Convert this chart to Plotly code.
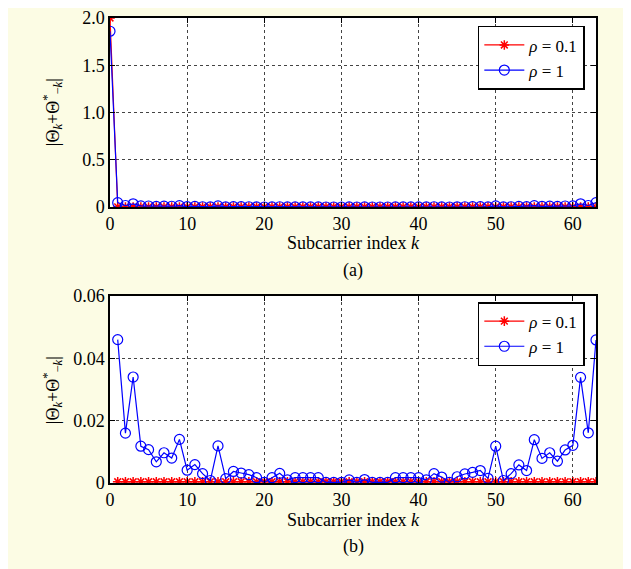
import plotly.graph_objects as go

# subcarrier index k = 0..63
k = list(range(64))

# rho = 0.1
rho01 = [2.0] + [0.0004] * 63

# rho = 1
rho1 = [1.86,
        0.046, 0.016, 0.034, 0.0118, 0.0107, 0.0068, 0.0097, 0.0080, 0.0140, 0.0041,
        0.0059, 0.0030, 0.0008, 0.0119, 0.0014, 0.0037, 0.0032, 0.0027, 0.0017, 0.0002,
        0.0017, 0.0031, 0.0010, 0.0017, 0.0017, 0.0017, 0.0017, 0.0002, 0.0002, 0.0002,
        0.0010, 0.0002, 0.0011, 0.0002, 0.0002, 0.0002, 0.0017, 0.0017, 0.0017, 0.0017,
        0.0010, 0.0030, 0.0019, 0.0002, 0.0020, 0.0029, 0.0034, 0.0040, 0.0015, 0.0118,
        0.0008, 0.0030, 0.0058, 0.0040, 0.0139, 0.0079, 0.0097, 0.0070, 0.0106, 0.0121,
        0.0339, 0.0161, 0.0459]

series_names = ["<i>ρ</i> = 0.1", "<i>ρ</i> = 1"]
x_ticks = [0, 10, 20, 30, 40, 50, 60]
y1_ticks = [0, 0.5, 1.0, 1.5, 2.0]
y1_labels = ["0", "0.5", "1.0", "1.5", "2.0"]
y2_ticks = [0, 0.02, 0.04, 0.06]
y2_labels = ["0", "0.02", "0.04", "0.06"]

FONT = "'Liberation Serif', 'Times New Roman', serif"
BG = "#FCFCE4"

red_style = dict(mode="lines+markers", line=dict(color="#FF0000", width=1.2),
                 marker=dict(symbol="asterisk-open", size=8,
                             line=dict(color="#FF0000", width=1.5)))
blue_style = dict(mode="lines+markers", line=dict(color="#0000FF", width=1.2),
                  marker=dict(symbol="circle-open", size=10,
                              line=dict(color="#0000FF", width=1.2)))

fig = go.Figure()
# top panel
fig.add_trace(go.Scatter(x=k, y=rho01, name=series_names[0], xaxis="x", yaxis="y",
                         legend="legend", **red_style))
fig.add_trace(go.Scatter(x=k, y=rho1, name=series_names[1], xaxis="x", yaxis="y",
                         legend="legend", **blue_style))
# bottom panel (k = 1..63)
fig.add_trace(go.Scatter(x=k[1:], y=rho01[1:], name=series_names[0], xaxis="x2", yaxis="y2",
                         legend="legend2", **red_style))
fig.add_trace(go.Scatter(x=k[1:], y=rho1[1:], name=series_names[1], xaxis="x2", yaxis="y2",
                         legend="legend2", **blue_style))

axis_common = dict(showline=True, linecolor="black", linewidth=1.5, mirror="ticks",
                   ticks="inside", ticklen=5, tickcolor="black", tickwidth=1,
                   showgrid=True, gridcolor="#444", gridwidth=1, griddash="dot",
                   zeroline=False, automargin=False,
                   tickfont=dict(family=FONT, size=18, color="black"))

top_dom = [0.5935, 1.0]
bot_dom = [0.0, 0.4022]

legend_common = dict(x=0.977, xanchor="right", yanchor="top",
                     bgcolor="white", bordercolor="black", borderwidth=1.5,
                     font=dict(family=FONT, size=17), tracegroupgap=0, itemwidth=40)

fig.update_layout(
    width=623, height=561,
    margin=dict(l=102, r=35, t=10, b=86),
    paper_bgcolor=BG, plot_bgcolor="white",
    font=dict(family=FONT, size=18, color="black"),
    xaxis=dict(domain=[0, 1], range=[0, 63], tickvals=x_ticks, anchor="y", **axis_common),
    yaxis=dict(domain=top_dom, range=[0, 2.0], tickvals=y1_ticks, ticktext=y1_labels,
               anchor="x", **axis_common),
    xaxis2=dict(domain=[0, 1], range=[0, 63], tickvals=x_ticks, anchor="y2", **axis_common),
    yaxis2=dict(domain=bot_dom, range=[0, 0.06], tickvals=y2_ticks, ticktext=y2_labels,
                anchor="x2", **axis_common),
    legend=dict(y=0.983, **legend_common),
    legend2=dict(y=0.389, **legend_common),
    showlegend=True,
)

ytitle = "|Θ<sub><i>k</i></sub>+Θ<sup>*</sup><sub>−<i>k</i></sub>|"
ann = [
    dict(text="Subcarrier index <i>k</i>", x=0.5, y=0.516),
    dict(text="(a)", x=0.5, y=0.458),
    dict(text="Subcarrier index <i>k</i>", x=0.5, y=-0.0796),
    dict(text="(b)", x=0.5, y=-0.1376),
    dict(text=ytitle, x=-0.119, y=(483 - 112) / 465, textangle=-90),
    dict(text=ytitle, x=-0.119, y=(483 - 390) / 465, textangle=-90),
]
for a in ann:
    fig.add_annotation(xref="paper", yref="paper", showarrow=False,
                       xanchor="center", yanchor="middle",
                       font=dict(family=FONT, size=18, color="black"), **a)

fig.write_html("out.html")
